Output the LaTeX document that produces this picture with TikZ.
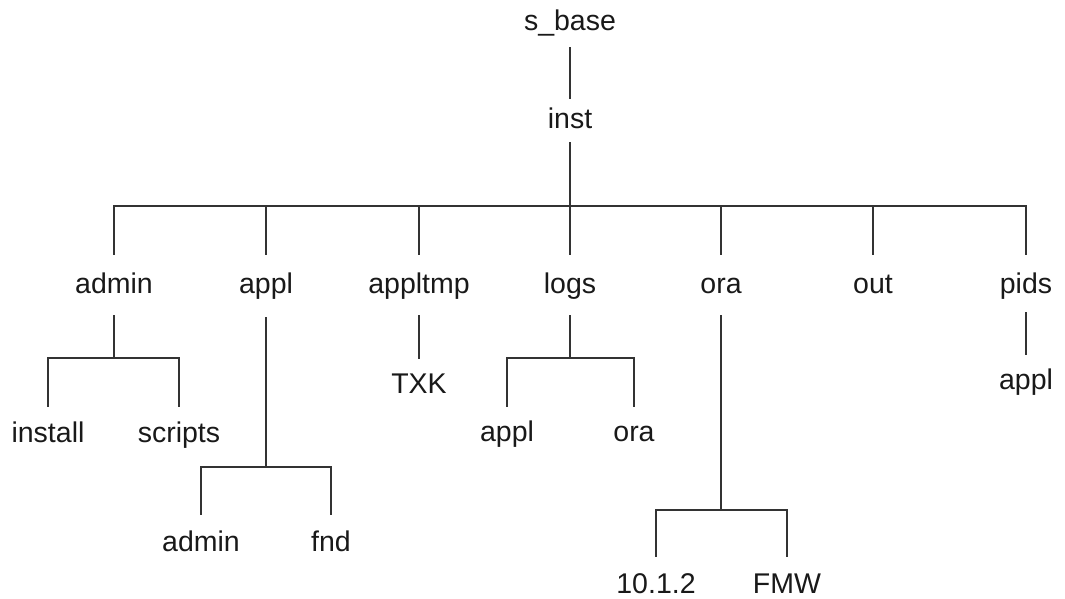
\documentclass[tikz,border=0pt]{standalone}
\usepackage{fontspec}
\setmainfont{Liberation Sans}
\begin{document}
\begin{tikzpicture}[x=1pt,y=-1pt,
  lbl/.style={anchor=base,inner sep=0pt,text=black!90,font=\fontsize{28.5}{30}\selectfont},
  top/.style={lbl,text height=38pt,text depth=22pt},
  sub/.style={lbl,text height=35pt,text depth=6pt},
  link/.style={draw=black!80,line width=1.4pt}]
\useasboundingbox (0,0) rectangle (1065,598);
% nodes
\node[lbl,text height=20pt,text depth=17pt] (sbase) at (570,30) {s\_base};
\node[lbl,text height=29pt,text depth=14pt] (inst) at (570,128) {inst};
\node[top] (admin) at (114,293) {admin};
\node[top,text depth=24pt] (appl) at (266,293) {appl};
\node[top] (appltmp) at (419,293) {appltmp};
\node[top] (logs) at (570,293) {logs};
\node[top] (ora) at (721,293) {ora};
\node[top] (out) at (873,293) {out};
\node[top,text depth=19pt] (pids) at (1026,293) {pids};
\node[sub] (install) at (48,442) {install};
\node[sub] (scripts) at (179,442) {scripts};
\node[sub,text height=34pt] (txk) at (419,393) {TXK};
\node[sub,text height=34pt] (lappl) at (507,441) {appl};
\node[sub,text height=34pt] (lora) at (634,441) {ora};
\node[sub,text height=34pt] (pappl) at (1026,389) {appl};
\node[sub,text height=36pt] (aadmin) at (201,551) {admin};
\node[sub,text height=36pt] (fnd) at (331,551) {fnd};
\node[sub,text height=36pt] (v1012) at (656,593) {10.1.2};
\node[sub,text height=36pt] (fmw) at (787,593) {FMW};
% junctions
\coordinate (instj) at (570,206);
\coordinate (adminj) at (114,358);
\coordinate (applj) at (266,467);
\coordinate (logsj) at (570,358);
\coordinate (oraj) at (721,510);
% connectors
\draw[link] (sbase.south) -- (inst.north);
\draw[link] (inst.south) -- (instj);
\draw[link] (admin.north) |- (instj) -| (pids.north);
\draw[link] (appl.north) -- (appl.north |- instj);
\draw[link] (appltmp.north) -- (appltmp.north |- instj);
\draw[link] (logs.north) -- (instj);
\draw[link] (ora.north) -- (ora.north |- instj);
\draw[link] (out.north) -- (out.north |- instj);
\draw[link] (admin.south) -- (adminj);
\draw[link] (install.north) |- (adminj) -| (scripts.north);
\draw[link] (appl.south) -- (applj);
\draw[link] (aadmin.north) |- (applj) -| (fnd.north);
\draw[link] (appltmp.south) -- (txk.north);
\draw[link] (logs.south) -- (logsj);
\draw[link] (lappl.north) |- (logsj) -| (lora.north);
\draw[link] (ora.south) -- (oraj);
\draw[link] (v1012.north) |- (oraj) -| (fmw.north);
\draw[link] (pids.south) -- (pappl.north);
\end{tikzpicture}
\end{document}
